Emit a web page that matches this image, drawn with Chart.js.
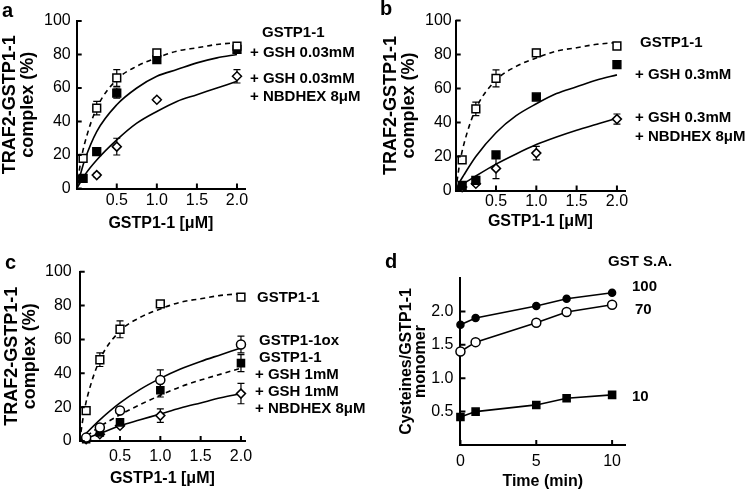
<!DOCTYPE html>
<html>
<head>
<meta charset="utf-8">
<script src="https://cdn.jsdelivr.net/npm/chart.js@4.4.1/dist/chart.umd.min.js"></script>
<style>
  body { margin: 0; background: #fff; width: 751px; height: 493px; position: relative; overflow: hidden; }
  canvas { position: absolute; }
</style>
</head>
<body>
<canvas id="panelA" width="375" height="245" style="left:0;top:0"></canvas>
<canvas id="panelB" width="376" height="245" style="left:375px;top:0"></canvas>
<canvas id="panelC" width="375" height="248" style="left:0;top:245px"></canvas>
<canvas id="panelD" width="376" height="248" style="left:375px;top:245px"></canvas>
<script>
const FONT = "'Liberation Sans', Arial, sans-serif"

const conc = [0.08, 0.25, 0.5, 1, 2]
const fitX = [0, 0.05, 0.1, 0.25, 0.5, 0.75, 1, 1.25, 1.5, 1.75, 2]
const concTicks = [0.5, 1, 1.5, 2]
const concTickLabels = ['0.5', '1.0', '1.5', '2.0']
const pctTicks = [0, 20, 40, 60, 80, 100]
const pctTickLabels = ['0', '20', '40', '60', '80', '100']

// GSTP1-1 sola (igual en a, b y c)
const gstpAlone = [18, 48, 66, 81, 85]
const gstpAloneErr = [2, 4, 5, 2, 1]
const gstpAloneFit = [0, 16, 27, 48, 65, 73, 78, 82, 84, 86, 87]

// Panel a: GSH 0.03 mM
const aGsh = [6, 22, 57, 77, 83]
const aGshErr = [1, 2, 3, 2, 2]
const aGshFit = [0, 9, 17, 34, 50, 60, 67, 71, 75, 78, 80]
const aNbd = [null, 8, 25, 53, 67]
const aNbdErr = [0, 1, 5, 1, 4]
const aNbdFit = [0, 4, 8, 17, 29, 39, 46, 52, 56, 60, 64]
const aNotes = ['GSTP1-1', '+ GSH 0.03mM', '+ GSH 0.03mM', '+ NBDHEX 8μM']

// Panel b: GSH 0.3 mM
const bGsh = [3, 6, 21, 55, 74]
const bGshErr = [1, 1, 1, 1, 2]
const bGshFit = [0, 5, 9, 20, 34, 44, 51, 57, 61, 65, 68]
const bNbd = [2, 4, 13, 22, 42]
const bNbdErr = [0, 1, 6, 4, 3]
const bNbdFit = [0, 2, 4, 8.5, 15.5, 21.5, 27, 31.5, 35.5, 39, 42.5]
const bNotes = ['GSTP1-1', '+ GSH 0.3mM', '+ GSH 0.3mM', '+ NBDHEX 8μM']

// Panel c: GSH 1 mM y GSTP1-1 oxidada
const cOx = [2, 8, 18, 36, 57]
const cOxErr = [0, 1, 1, 6, 5]
const cOxFit = [0, 3, 5.5, 12.5, 22.5, 30.5, 37, 42.5, 47, 51, 55]
const cGsh = [1, 5, 11, 30, 46]
const cGshErr = [0, 1, 1, 4, 5]
const cGshFit = [0, 2, 3.5, 8.5, 15.5, 21.5, 27, 32, 36, 39.5, 43]
const cNbd = [1, 4, 9, 15, 28]
const cNbdErr = [0, 1, 1, 4, 6]
const cNbdFit = [0, 1, 2, 4.5, 9, 12.5, 16, 19.5, 22.5, 25.5, 28]
const cNotes = ['GSTP1-1', 'GSTP1-1ox', 'GSTP1-1', '+ GSH 1mM', '+ GSH 1mM', '+ NBDHEX 8μM']

// Panel d: cisteínas por monómero frente al tiempo
const times = [0, 1, 5, 7, 10]
const timeTicks = [0, 5, 10]
const timeTickLabels = ['0', '5', '10']
const cysTicks = [0.5, 1, 1.5, 2]
const cysTickLabels = ['0.5', '1.0', '1.5', '2.0']
const sa100 = [1.8, 1.9, 2.08, 2.19, 2.28]
const sa70 = [1.4, 1.54, 1.83, 1.99, 2.1]
const sa10 = [0.42, 0.5, 0.6, 0.7, 0.75]
const dNotes = ['GST S.A.', '100', '70', '10']

// Utilidades
const points = (xs, ys) => xs.map((x, i) => ({ x, y: ys[i] }))

function markers(xs, ys, errs, shape, radius, fill) {
  return {
    data: points(xs, ys),
    errors: errs,
    showLine: false,
    pointStyle: shape,
    pointRadius: radius,
    pointBackgroundColor: fill,
    pointBorderColor: '#000',
    pointBorderWidth: 1.5,
    clip: false,
  }
}

function curve(xs, ys, dashed) {
  return {
    data: points(xs, ys),
    showLine: true,
    pointRadius: 0,
    borderColor: '#000',
    borderWidth: 1.6,
    borderDash: dashed ? [5, 4] : [],
    cubicInterpolationMode: 'monotone',
    clip: false,
  }
}

// Chart.js reserva el padding de las etiquetas dos veces; se descuenta en el título
function axis(min, max, ticks, labels, tickPad, title, titleFont, titlePad) {
  return {
    type: 'linear',
    min,
    max,
    afterBuildTicks: (s) => {
      s.ticks = ticks.map((v) => ({ value: v }))
    },
    grid: { display: false, drawTicks: false },
    border: { display: true, color: '#000', width: 2 },
    ticks: {
      color: '#000',
      padding: tickPad,
      maxRotation: 0,
      autoSkip: false,
      font: { family: FONT, size: 16, lineHeight: 1 },
      callback: (v, i) => labels[i],
    },
    title: {
      display: true,
      text: title,
      color: '#000',
      font: titleFont,
      padding: titlePad,
    },
  }
}

// Barras de error, marcas hacia dentro y textos
const decor = {
  id: 'decor',
  beforeDatasetsDraw(chart) {
    const { ctx, scales: { x, y } } = chart
    ctx.save()
    ctx.strokeStyle = '#000'
    ctx.lineWidth = 1.2
    chart.data.datasets.forEach((ds) => {
      if (!ds.errors) return
      ds.data.forEach((p, j) => {
        const e = ds.errors[j]
        if (p.y == null || !e) return
        const px = x.getPixelForValue(p.x)
        const top = y.getPixelForValue(p.y + e)
        const bot = y.getPixelForValue(p.y - e)
        ctx.beginPath()
        ctx.moveTo(px, top); ctx.lineTo(px, bot)
        ctx.moveTo(px - 3.5, top); ctx.lineTo(px + 3.5, top)
        ctx.moveTo(px - 3.5, bot); ctx.lineTo(px + 3.5, bot)
        ctx.stroke()
      })
    })
    ctx.restore()
  },
  afterDraw(chart, args, opts) {
    const { ctx, chartArea: area, scales: { x, y } } = chart
    ctx.save()
    ctx.strokeStyle = '#000'
    ctx.lineWidth = 2
    ctx.beginPath()
    x.ticks.forEach((t) => {
      const px = x.getPixelForValue(t.value)
      ctx.moveTo(px, area.bottom)
      ctx.lineTo(px, area.bottom - 5)
    })
    y.ticks.forEach((t) => {
      const py = y.getPixelForValue(t.value)
      ctx.moveTo(area.left, py)
      ctx.lineTo(area.left + 5, py)
    })
    ctx.stroke()

    ctx.fillStyle = '#000'
    ctx.textAlign = 'left'
    ctx.textBaseline = 'middle'
    ctx.font = `bold 20px ${FONT}`
    ctx.fillText(opts.letter[0], opts.letter[1], opts.letter[2])
    ctx.font = `bold 15px ${FONT}`
    opts.notes.forEach(([text, nx, ny]) => ctx.fillText(text, nx, ny))
    ctx.restore()
  },
}

const yTitleFont = { family: FONT, size: 18, weight: 'bold', lineHeight: 1 }
const xTitleFont = { family: FONT, size: 16, weight: 'bold', lineHeight: 1 }

function makeChart(id, datasets, scales, padding, letter, notes) {
  return new Chart(document.getElementById(id), {
    type: 'scatter',
    data: { datasets },
    options: {
      responsive: false,
      animation: false,
      layout: { padding },
      scales,
      plugins: {
        legend: { display: false },
        tooltip: { enabled: false },
        decor: { letter, notes },
      },
    },
    plugins: [decor],
  })
}

// Panel a
makeChart('panelA', [
  markers(conc, gstpAlone, gstpAloneErr, 'rect', 5.5, '#fff'),
  markers(conc, aGsh, aGshErr, 'rect', 5.5, '#000'),
  markers(conc, aNbd, aNbdErr, 'rectRot', 4.5, '#fff'),
  curve(fitX, gstpAloneFit, true),
  curve(fitX, aGshFit, false),
  curve(fitX, aNbdFit, false),
], {
  x: axis(0, 2.1, concTicks, concTickLabels, 4.5, 'GSTP1-1 [μM]', xTitleFont, { top: 2.5, bottom: 0 }),
  y: axis(0, 100, pctTicks, pctTickLabels, 6, ['TRAF2-GSTP1-1', 'complex (%)'], yTitleFont, { top: 0, bottom: 1 }),
}, { left: 1, top: 21, right: 130, bottom: 13 }, ['a', 2, 11],
[[aNotes[0], 262, 33], [aNotes[1], 250, 53], [aNotes[2], 250, 79], [aNotes[3], 250, 97]])

// Panel b
makeChart('panelB', [
  markers(conc, gstpAlone, gstpAloneErr, 'rect', 5.5, '#fff'),
  markers(conc, bGsh, bGshErr, 'rect', 5.5, '#000'),
  markers(conc, bNbd, bNbdErr, 'rectRot', 4.5, '#fff'),
  curve(fitX, gstpAloneFit, true),
  curve(fitX, bGshFit, false),
  curve(fitX, bNbdFit, false),
], {
  x: axis(0, 2.1, concTicks, concTickLabels, 3.5, 'GSTP1-1 [μM]', xTitleFont, { top: 0.5, bottom: 0 }),
  y: axis(0, 100, pctTicks, pctTickLabels, 4, ['TRAF2-GSTP1-1', 'complex (%)'], yTitleFont, { top: 0, bottom: 3 }),
}, { left: 7, top: 20.5, right: 126, bottom: 15 }, ['b', 5, 9],
[[bNotes[0], 265, 43], [bNotes[1], 260, 75], [bNotes[2], 260, 118], [bNotes[3], 260, 137]])

// Panel c
makeChart('panelC', [
  markers(conc, gstpAlone, gstpAloneErr, 'rect', 5.5, '#fff'),
  markers(conc, cOx, cOxErr, 'circle', 4.5, '#fff'),
  markers(conc, cGsh, cGshErr, 'rect', 5, '#000'),
  markers(conc, cNbd, cNbdErr, 'rectRot', 4.5, '#fff'),
  curve(fitX, gstpAloneFit, true),
  curve(fitX, cOxFit, false),
  curve(fitX, cGshFit, true),
  curve(fitX, cNbdFit, false),
], {
  x: axis(0, 2.05, concTicks, concTickLabels, 7.5, 'GSTP1-1 [μM]', xTitleFont, { top: -1, bottom: 0 }),
  y: axis(0, 100, pctTicks, pctTickLabels, 8, ['TRAF2-GSTP1-1', 'complex (%)'], yTitleFont, { top: 0, bottom: -2 }),
}, { left: 3, top: 26.7, right: 130, bottom: 6 }, ['c', 5, 18],
[[cNotes[0], 257, 53], [cNotes[1], 259, 96], [cNotes[2], 259, 113], [cNotes[3], 255, 130], [cNotes[4], 255, 147], [cNotes[5], 255, 164]])

// Panel d
const dLine = (ys, shape, radius, fill) => ({
  ...markers(times, ys, null, shape, radius, fill),
  showLine: true,
  borderColor: '#000',
  borderWidth: 1.6,
})

makeChart('panelD', [
  dLine(sa100, 'circle', 3.5, '#000'),
  dLine(sa70, 'circle', 4.5, '#fff'),
  dLine(sa10, 'rect', 5, '#000'),
], {
  x: axis(0, 10.85, timeTicks, timeTickLabels, 8.7, 'Time (min)', xTitleFont, { top: -4.4, bottom: 0 }),
  y: axis(0, 2.5, cysTicks, cysTickLabels, 7, ['Cysteines/GSTP1-1', 'monomer'],
    { family: FONT, size: 16, weight: 'bold', lineHeight: 0.85 }, { top: 0, bottom: -3 }),
}, { left: 25, top: 33, right: 126, bottom: 3 }, ['d', 10, 17],
[[dNotes[0], 233, 17], [dNotes[1], 257, 42], [dNotes[2], 260, 65], [dNotes[3], 257, 152]])
</script>
</body>
</html>
